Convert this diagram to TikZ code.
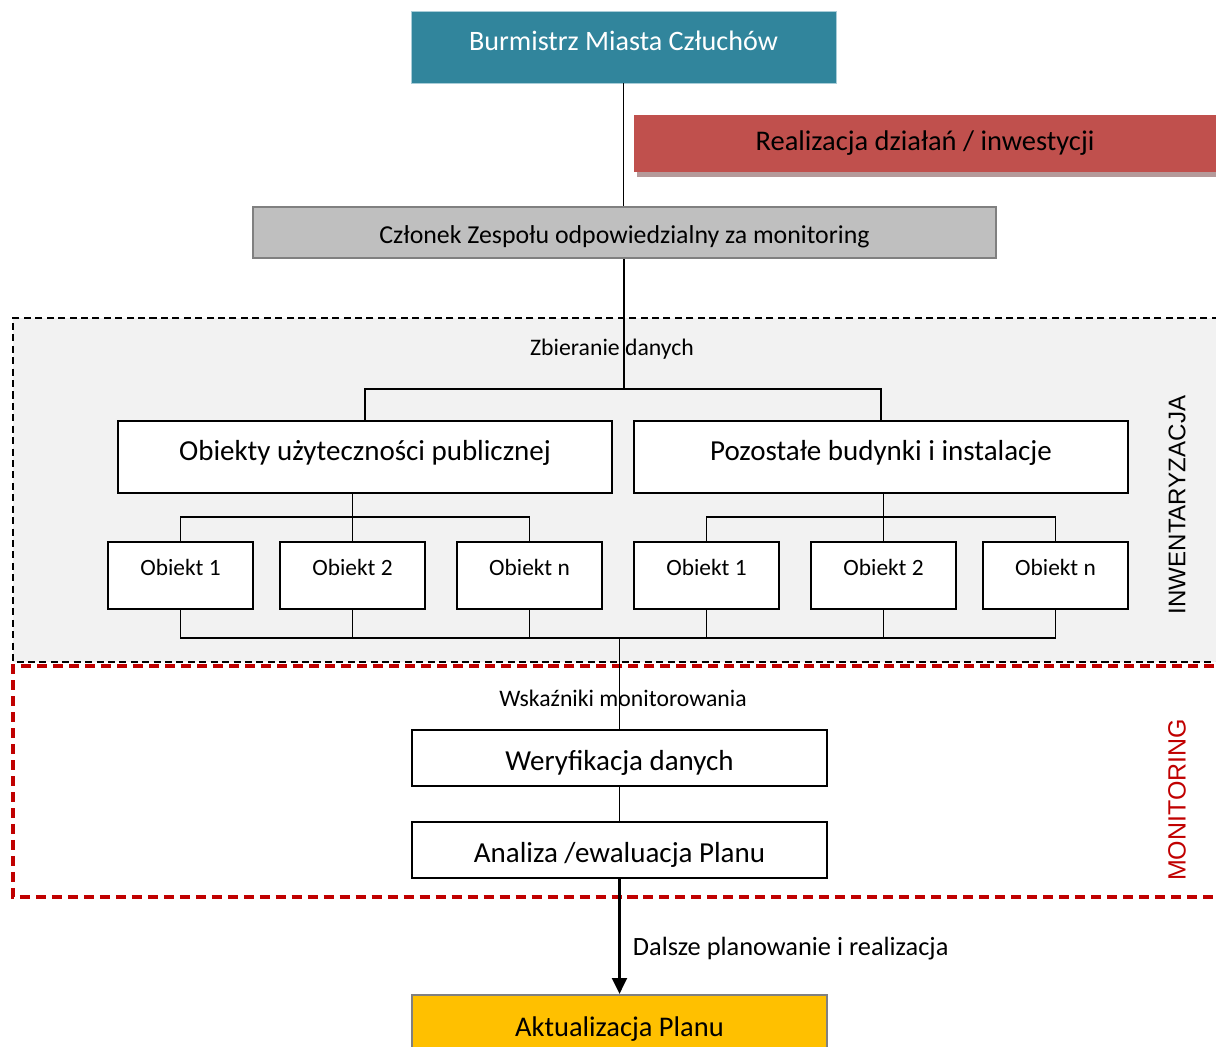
\documentclass[tikz,border=0pt]{standalone}
\usepackage{fontspec}
\setmainfont{Carlito}
\newfontfamily\arialfont{Liberation Sans}
\usetikzlibrary{arrows.meta,shadows}
\definecolor{tealbox}{HTML}{31859C}
\definecolor{tealline}{HTML}{A9CDD8}
\definecolor{realred}{HTML}{C0504D}
\definecolor{realshade}{HTML}{B59A9A}
\definecolor{boxgrey}{HTML}{BFBFBF}
\definecolor{greyline}{HTML}{808080}
\definecolor{fieldgrey}{HTML}{F2F2F2}
\definecolor{monred}{HTML}{C00000}
\definecolor{planyellow}{HTML}{FFC000}
\tikzset{>={Triangle[length=9pt,width=8.5pt]},every node/.style={inner sep=0pt},
  link/.style={line width=1pt},
  headbox/.style={draw=tealline,fill=tealbox,text=white,minimum width=8.5cm,minimum height=1.44cm,font=\fontsize{16}{18}\selectfont,text height=10.5pt,text depth=7pt},
  realbox/.style={fill=realred,minimum width=11.64cm,minimum height=1.14cm,font=\fontsize{16.2}{18}\selectfont,drop shadow={shadow xshift=.06cm,shadow yshift=-.1cm,fill=realshade,opacity=1}},
  greybox/.style={draw=greyline,line width=1pt,fill=boxgrey,minimum width=14.86cm,minimum height=1.02cm,font=\fontsize{14.7}{16}\selectfont,text height=12pt,text depth=0pt},
  grpbox/.style={draw,line width=1pt,fill=white,minimum width=9.88cm,minimum height=1.44cm,font=\fontsize{16.5}{18}\selectfont,text height=10.6pt,text depth=6.8pt},
  objbox/.style={draw,line width=1pt,fill=white,minimum width=2.9cm,minimum height=1.34cm,font=\fontsize{13.3}{15}\selectfont,text height=8.6pt,text depth=8.5pt},
  stepbox/.style={draw,line width=1pt,fill=white,minimum width=8.3cm,minimum height=1.12cm,font=\fontsize{16.5}{18}\selectfont,text height=14pt,text depth=0pt},
  planbox/.style={draw=greyline,line width=1.3pt,fill=planyellow,minimum width=8.3cm,minimum height=1.2cm,font=\fontsize{16.2}{18}\selectfont,text height=12.7pt,text depth=0pt},
  flowlabel/.style={font=\fontsize{13.5}{15}\selectfont},
  sidelabel/.style={rotate=90,font=\arialfont\fontsize{13.7}{15}\selectfont}}
\begin{document}
\begin{tikzpicture}[x=.02cm,y=-.02cm]
\useasboundingbox (0,0) rectangle (1216,1047);
\clip (0,0) rectangle (1216,1047);
% pola inwentaryzacji i monitoringu
\fill[fieldgrey] (13,318) rectangle (1230,662);
\draw[line width=1.1pt,dash pattern=on 4pt off 2.5pt] (1230,318) -- (13,318) -- (13,662) -- (1230,662);
\draw[monred,line width=1.8pt,dash pattern=on 5.7pt off 3.4pt] (1230,666) -- (13,666) -- (13,897) -- (1230,897);
\node[sidelabel] (inw) at (1177,505) {INWENTARYZACJA};
\node[sidelabel,text=monred,font=\arialfont\fontsize{14.2}{16}\selectfont] (mon) at (1177,800) {MONITORING};
% wezly
\node[headbox] (burm) at (623.5,47) {Burmistrz Miasta Człuchów};
\node[realbox] (real) at (925,143.5) {Realizacja działań / inwestycji};
\node[greybox] (czl) at (624.5,232.5) {Członek Zespołu odpowiedzialny za monitoring};
\node[grpbox] (pub) at (365,457) {Obiekty użyteczności publicznej};
\node[grpbox] (poz) at (881,457) {Pozostałe budynki i instalacje};
\foreach \n/\x/\t in {o1/180.5/1,o2/352.5/2,o3/529.5/n,p1/706.5/1,p2/883.5/2,p3/1055.5/n}
  \node[objbox] (\n) at (\x,575.5) {Obiekt \t};
\node[stepbox] (wer) at (619.5,758) {Weryfikacja danych};
\node[stepbox] (ana) at (619.5,850) {Analiza /ewaluacja Planu};
\node[planbox] (akt) at (619.5,1025) {Aktualizacja Planu};
\node[flowlabel] (zbi) at (612,349) {Zbieranie danych};
\node[flowlabel] (wsk) at (623,698) {Wskaźniki monitorowania};
% polaczenia
\coordinate (split) at (624,389);
\coordinate (busL) at (352.5,517);
\coordinate (busR) at (883.5,517);
\coordinate (busB) at (619.5,638);
\draw[link] (burm.south) -- (burm.south |- czl.north);
\draw[link] (czl.south -| split) -- (split);
\draw[link] (pub.north) |- (split) -| (poz.north);
\draw[link] (pub.south -| busL) -- (busL) -- (o2.north);
\draw[link] (o1.north) |- (busL) -| (o3.north);
\draw[link] (poz.south -| busR) -- (busR) -- (p2.north);
\draw[link] (p1.north) |- (busR) -| (p3.north);
\draw[link] (o1.south) |- (busB) -| (p3.south);
\foreach \n in {o2,o3,p1,p2} \draw[link] (\n.south) -- (\n.south |- busB);
\draw[link] (busB) -- (wer.north);
\draw[link] (wer) -- (ana);
\draw[link,line width=1.3pt,->] (ana) -- node[pos=.61,right=7pt,flowlabel,font=\fontsize{15}{17}\selectfont] (dal) {Dalsze planowanie i realizacja} (akt);
\end{tikzpicture}
\end{document}
